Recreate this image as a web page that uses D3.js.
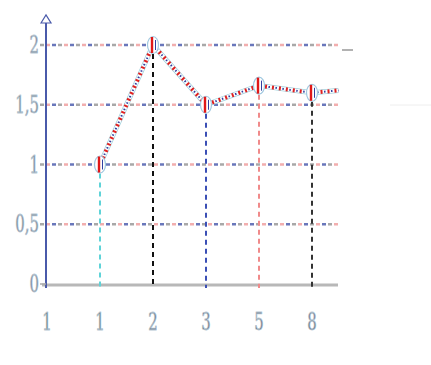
<!DOCTYPE html>
<html><head><meta charset="utf-8">
<script src="https://cdn.jsdelivr.net/npm/d3@7"></script>
<style>body{margin:0;background:#fff}svg{display:block}</style>
</head><body>
<script>
const xLabels = ["1","1","2","3","5","8"];
const pointIdx = [1,2,3,4,5,5.5];
const pointVals = [1,2,1.5,1.66,1.6,1.62];
const yTicks = [0,0.5,1,1.5,2];
const yTickLabels = ["0","0,5","1","1,5","2"];
const dropColors = ["#5fd3d8","#111","#3b4fb5","#f08a8a","#333"];

const W=431,H=365;
const svg=d3.select("body").append("svg").attr("width",W).attr("height",H);
const x=d3.scaleLinear().domain([0,5]).range([47,312]);
const y=d3.scaleLinear().domain([0,2]).range([284,45]);

// horizontal grid
yTicks.filter(v=>v>0).forEach(v=>{
  [["#999",0],["#f0a0a0",6],["#5060b0",12]].forEach(([c,off])=>{
    svg.append("line").attr("x1",40).attr("x2",338).attr("y1",y(v)).attr("y2",y(v))
      .attr("stroke",c).attr("stroke-width",2.5).attr("stroke-dasharray","4 14").attr("stroke-dashoffset",-off).attr("opacity",0.85);
  });
});
// x axis line
svg.append("line").attr("x1",42).attr("x2",338).attr("y1",y(0)+1).attr("y2",y(0)+1).attr("stroke","#b8b8b8").attr("stroke-width",3);
// drop lines
pointIdx.slice(0,5).forEach((d,i)=>{
  svg.append("line").attr("x1",x(d)).attr("x2",x(d)).attr("y1",y(pointVals[i])).attr("y2",y(0)+4)
    .attr("stroke",dropColors[i]).attr("stroke-width",2).attr("stroke-dasharray","5 4");
});
// y axis
svg.append("line").attr("x1",46).attr("x2",46).attr("y1",20).attr("y2",288).attr("stroke","#4a5aaa").attr("stroke-width",2);
svg.append("path").attr("d","M41,23 L46,15 L51,23 Z").attr("fill","#fff").attr("stroke","#4a5aaa").attr("stroke-width",1.2);
svg.append("line").attr("x1",40).attr("x2",46).attr("y1",y(0)).attr("y2",y(0)).attr("stroke","#aaa").attr("stroke-width",1.5);

// line
const pts=pointIdx.map((d,i)=>[x(d),y(pointVals[i])]);
const line=d3.line();
svg.append("path").attr("d",line(pts)).attr("fill","none").attr("stroke","#9fd0dc").attr("stroke-width",5);
svg.append("path").attr("d",line(pts)).attr("fill","none").attr("stroke","#fff").attr("stroke-width",3.5);
svg.append("path").attr("d",line(pts)).attr("fill","none").attr("stroke","#e02020").attr("stroke-width",4).attr("stroke-dasharray","2 5");
svg.append("path").attr("d",line(pts)).attr("fill","none").attr("stroke","#3040a0").attr("stroke-width",2).attr("stroke-dasharray","1.5 5.5").attr("stroke-dashoffset",-3.5);

// markers
pts.slice(0,5).forEach(p=>{
  svg.append("ellipse").attr("cx",p[0]).attr("cy",p[1]).attr("rx",5.5).attr("ry",8.5).attr("fill","#fff").attr("stroke","#a0c8e0").attr("stroke-width",1.2);
  svg.append("line").attr("x1",p[0]-1).attr("x2",p[0]-1).attr("y1",p[1]-8).attr("y2",p[1]+8).attr("stroke","#e01818").attr("stroke-width",2.4);
  svg.append("line").attr("x1",p[0]+2.5).attr("x2",p[0]+2.5).attr("y1",p[1]-5).attr("y2",p[1]+5).attr("stroke","#3040a0").attr("stroke-width",1);
});

// y labels
yTicks.forEach((v,i)=>{
  svg.append("text").attr("transform",`translate(39,${y(v)+8}) scale(0.62,1)`).attr("text-anchor","end")
    .attr("font-family","DejaVu Serif").attr("font-size",24).attr("fill","#7a8898").attr("stroke","#b8c8d4").attr("stroke-width",0.8)
    .text(yTickLabels[i]);
});
// x labels
xLabels.forEach((l,i)=>{
  svg.append("text").attr("transform",`translate(${x(i)},${330}) scale(0.62,1)`).attr("text-anchor","middle")
    .attr("font-family","DejaVu Serif").attr("font-size",24).attr("fill","#6a7888").attr("stroke","#b8c8d4").attr("stroke-width",0.8)
    .text(l);
});
// stray marks
svg.append("line").attr("x1",342).attr("x2",353).attr("y1",50).attr("y2",50).attr("stroke","#999").attr("stroke-width",1.5);
svg.append("line").attr("x1",390).attr("x2",431).attr("y1",105).attr("y2",105).attr("stroke","#eee").attr("stroke-width",1);
</script>
</body></html>
